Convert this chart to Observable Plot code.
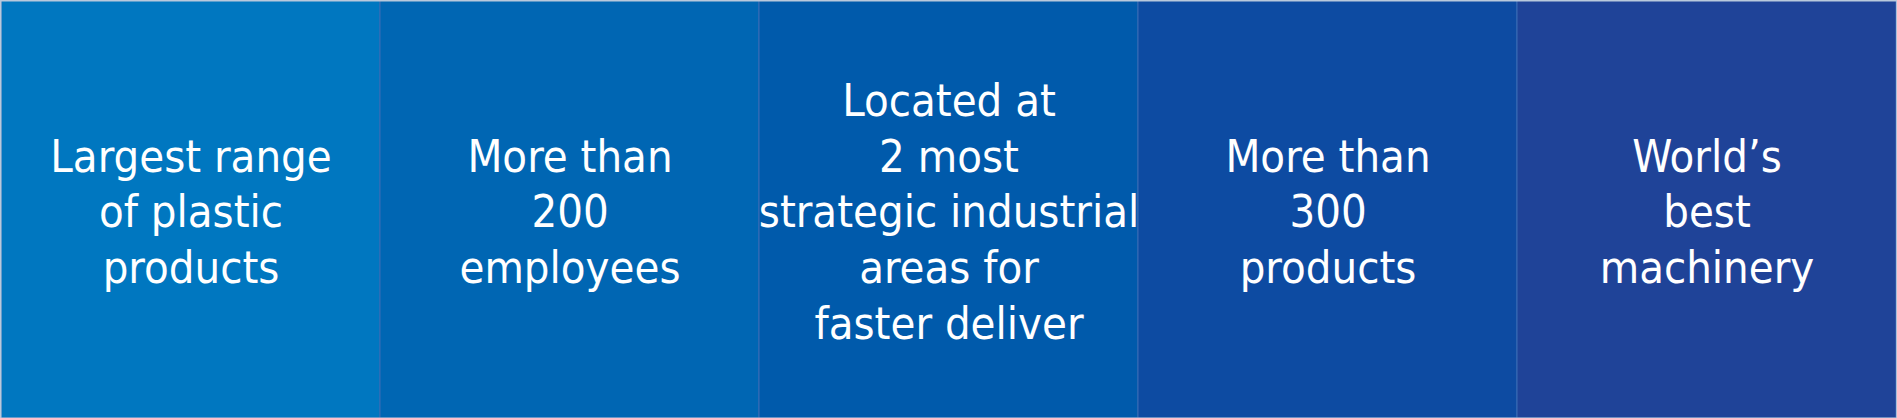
<!DOCTYPE html>
<html><head><meta charset="utf-8">
<script src="https://cdn.jsdelivr.net/npm/d3@7"></script>
<script src="https://cdn.jsdelivr.net/npm/@observablehq/plot@0.6"></script>
<style>body{margin:0;background:#fff}</style>
</head><body><div id="chart"></div>
<script>
const panels = ["p1", "p2", "p3", "p4", "p5"];
const colors = ["#0077c0", "#0066b3", "#005aab", "#0d4ba2", "#1f4398"];
const labels = [
  "Largest range\nof plastic\nproducts",
  "More than\n200\nemployees",
  "Located at\n2 most\nstrategic industrial\nareas for\nfaster deliver",
  "More than\n300\nproducts",
  "World’s\nbest\nmachinery"
];
const rows = panels.map((p, i) => ({p, color: colors[i], label: labels[i]}));

const plot = Plot.plot({
  width: 1897, height: 418,
  margin: 0,
  x: {type: "band", domain: panels, padding: 0, axis: null},
  y: {axis: null},
  marks: [
    Plot.cell(rows, {x: "p", fill: "color", stroke: "#3a6db5", strokeWidth: 1}),
    Plot.frame({stroke: "#b9c9dc", strokeWidth: 2}),
    Plot.text(rows, {
      x: "p", text: "label", frameAnchor: "middle", fill: "white",
      fontSize: 45, lineHeight: 1.24,
      fontFamily: "'Liberation Sans Narrow', 'DejaVu Sans Condensed', sans-serif"
    })
  ]
});
document.getElementById("chart").appendChild(plot);
</script></body></html>
